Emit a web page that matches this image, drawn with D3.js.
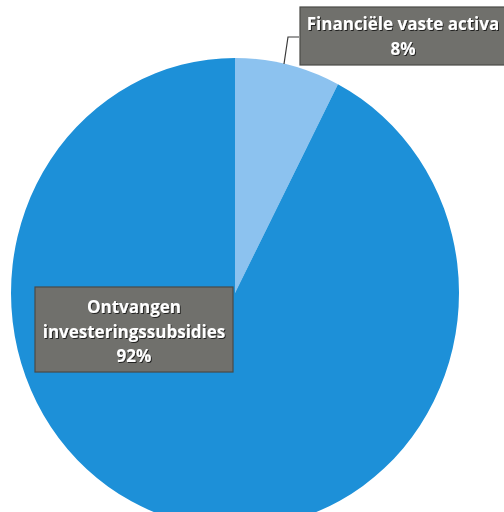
<!DOCTYPE html>
<html><head><meta charset="utf-8">
<script src="https://cdn.jsdelivr.net/npm/d3@7"></script>
<style>html,body{margin:0;padding:0;background:#fff;}svg{display:block;}</style>
</head><body>
<script>
const categories = ["Financiële vaste activa", "Ontvangen investeringssubsidies"];
const values = [7.6, 92.4];
const colors = ["#8cc2ef", "#1d90d8"];

const W = 504, H = 512;
const cx = 235, cy = 293, rx = 224, ry = 235;

const svg = d3.select("body").append("svg").attr("width", W).attr("height", H);
const defs = svg.append("defs");
const f = defs.append("filter").attr("id", "sh").attr("x", "-20%").attr("y", "-20%").attr("width", "140%").attr("height", "140%");
f.append("feDropShadow").attr("dx", 1).attr("dy", 1).attr("stdDeviation", 0.6).attr("flood-color", "#000").attr("flood-opacity", 0.7);

const pie = d3.pie().sort(null).value(d => d);
const arcs = pie(values);
const arc = d3.arc().innerRadius(0).outerRadius(rx);

const g = svg.append("g").attr("transform", `translate(${cx},${cy}) scale(1,${ry / rx})`);
g.selectAll("path").data(arcs).join("path")
  .attr("d", arc)
  .attr("fill", (d, i) => colors[i]);

const fmt = v => Math.round(v) + "%";

// leader line for the small slice
svg.append("path")
  .attr("d", "M299,37 L288,37 L284,64")
  .attr("fill", "none").attr("stroke", "#3a3a3a").attr("stroke-width", 1.2);

function labelBox(x, y, w, h, lines, tx, ty0, dy) {
  svg.append("rect").attr("x", x).attr("y", y).attr("width", w).attr("height", h)
    .attr("fill", "#70706c").attr("stroke", "#4a4a47").attr("stroke-width", 1.2);
  const t = svg.append("g").attr("filter", "url(#sh)");
  lines.forEach((s, i) => {
    t.append("text").attr("x", tx).attr("y", ty0 + i * dy)
      .attr("text-anchor", "middle")
      .attr("font-family", "'Open Sans', sans-serif")
      .attr("font-weight", "bold").attr("font-size", 17)
      .attr("fill", "#ffffff").text(s);
  });
}

labelBox(300, 7, 210, 58, [categories[0], fmt(values[0])], 403, 30, 25);
labelBox(35, 287, 198, 85, ["Ontvangen", "investeringssubsidies", fmt(values[1])], 134, 313, 24.5);
</script>
</body></html>
